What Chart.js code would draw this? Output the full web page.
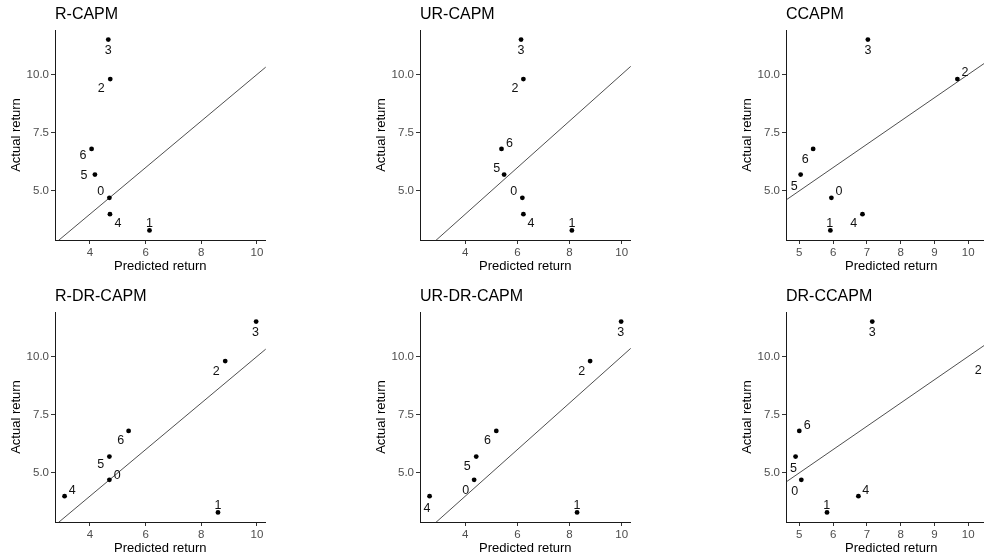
<!DOCTYPE html>
<html>
<head>
<meta charset="utf-8">
<script src="https://cdn.jsdelivr.net/npm/chart.js@4.4.0/dist/chart.umd.min.js"></script>
<style>
    html, body { margin: 0; padding: 0; background: #fff; }
    body { width: 984px; height: 560px; position: relative; overflow: hidden; }
    canvas { position: absolute; }
</style>
</head>
<body>
<canvas id="p0" width="280" height="280" style="left:0px;top:0px"></canvas>
<canvas id="p1" width="280" height="280" style="left:365px;top:0px"></canvas>
<canvas id="p2" width="280" height="280" style="left:731px;top:0px"></canvas>
<canvas id="p3" width="280" height="280" style="left:0px;top:282px"></canvas>
<canvas id="p4" width="280" height="280" style="left:365px;top:282px"></canvas>
<canvas id="p5" width="280" height="280" style="left:731px;top:282px"></canvas>
<script>
const FONT = "'Liberation Sans', Arial, sans-serif";

// portfolio ids and their realised returns (same in every panel)
const portfolios = ["0", "1", "2", "3", "4", "5", "6"];
const actualReturn = [4.7, 3.3, 9.8, 11.5, 4.0, 5.7, 6.8];

// predicted returns per model, in portfolio order 0..6
const predRCapm = [4.70, 6.14, 4.73, 4.66, 4.72, 4.18, 4.06];
const predURCapm = [6.19, 8.09, 6.23, 6.14, 6.23, 5.49, 5.39];
const predCCapm = [5.95, 5.92, 9.68, 7.03, 6.87, 5.04, 5.41];
const predRDRCapm = [4.70, 8.60, 8.86, 9.97, 3.09, 4.70, 5.39];
const predURDRCapm = [4.34, 8.29, 8.79, 9.98, 2.63, 4.42, 5.19];
const predDRCCapm = [5.06, 5.82, 10.56, 7.16, 6.75, 4.89, 5.00];

const modelNames = ["R-CAPM", "UR-CAPM", "CCAPM", "R-DR-CAPM", "UR-DR-CAPM", "DR-CCAPM"];

const yTicks = [5, 7.5, 10];
const xTicksWide = [4, 6, 8, 10];
const xTicksNarrow = [5, 6, 7, 8, 9, 10];

// where each number sits relative to its dot (repelled labels), px
const labelOffsets = [
    [[-8.7, -6.7], [0, -7.7], [-9, 9.3], [0, 10.7], [8, 9.3], [-11, 0], [-8.7, 5.7]],
    [[-8.7, -6.7], [0, -7.7], [-8.3, 9.3], [0, 10.7], [7.7, 9.3], [-7.3, -6.3], [8, -5.7]],
    [[7.7, -6.7], [-0.7, -7.7], [7.7, -6.7], [0, 10.7], [-8.7, 9.3], [-6.3, 11.3], [-8, 10]],
    [[7.7, -5], [0, -7.7], [-9, 9.7], [-0.7, 10.3], [7.7, -5.7], [-8.7, 7], [-8, 9.3]],
    [[-8.3, 9.7], [0, -7.7], [-8.3, 9.7], [-0.3, 10.3], [-2.7, 11.7], [-9, 9.3], [-8.7, 9.3]],
    [[-6.7, 11.3], [-0.3, -7.7], [-9, 9.3], [0, 10.3], [7.3, -5.7], [-2, 11], [8, -5.7]]
];

const predictions = [predRCapm, predURCapm, predCCapm, predRDRCapm, predURDRCapm, predDRCCapm];
const columnTicks = [xTicksWide, xTicksWide, xTicksNarrow];

function expandRange(values) {
    const lo = Math.min(...values);
    const hi = Math.max(...values);
    const pad = (hi - lo) * 0.05;
    return [lo - pad, hi + pad];
}

const yRange = expandRange(actualReturn);

const panelDecor = {
    id: "panelDecor",
    afterDatasetsDraw(chart, args, opts) {
        const ctx = chart.ctx;
        const meta = chart.getDatasetMeta(0);
        ctx.save();
        ctx.fillStyle = "#111";
        ctx.font = "12.5px " + FONT;
        ctx.textAlign = "center";
        ctx.textBaseline = "middle";
        meta.data.forEach((pt, i) => {
            const [dx, dy] = opts.offsets[i];
            ctx.fillText(portfolios[i], pt.x + dx, pt.y + dy + 0.5);
        });
        ctx.fillStyle = "#000";
        ctx.font = "16px " + FONT;
        ctx.textAlign = "left";
        ctx.fillText(opts.title, chart.chartArea.left, chart.chartArea.top - 15);
        ctx.restore();
    }
};

function drawPanel(index) {
    const col = index % 3;
    const pred = predictions[index];
    const other = predictions[(index + 3) % 6];
    const xRange = expandRange(pred.concat(other));
    const lo = Math.min(xRange[0], yRange[0]);
    const hi = Math.max(xRange[1], yRange[1]);
    const xTicks = columnTicks[col];

    new Chart(document.getElementById("p" + index), {
        type: "scatter",
        data: {
            datasets: [{
                data: pred.map((x, i) => ({x: x, y: actualReturn[i]})),
                backgroundColor: "#000",
                borderWidth: 0,
                pointRadius: 2.4,
                order: 0
            }, {
                type: "line",
                data: [{x: lo, y: lo}, {x: hi, y: hi}],
                borderColor: "#222",
                borderWidth: 0.8,
                pointRadius: 0,
                clip: 0,
                order: 1
            }]
        },
        options: {
            responsive: false,
            animation: false,
            devicePixelRatio: 1,
            layout: {padding: {top: 30, right: 14.3, left: 0, bottom: 0}},
            plugins: {
                legend: {display: false},
                tooltip: {enabled: false},
                panelDecor: {title: modelNames[index], offsets: labelOffsets[index]}
            },
            scales: {
                x: {
                    type: "linear",
                    min: xRange[0],
                    max: xRange[1],
                    afterBuildTicks: s => { s.ticks = xTicks.map(v => ({value: v})); },
                    afterFit: s => { s.height = 40; },
                    grid: {display: true, drawOnChartArea: false, drawTicks: true, tickLength: 4, color: "#333"},
                    border: {display: true, color: "#1a1a1a", width: 1},
                    ticks: {
                        color: "#4d4d4d", font: {family: FONT, size: 11.5}, padding: 2,
                        maxRotation: 0, autoSkip: false, callback: v => String(v)
                    },
                    title: {
                        display: true, text: "Predicted return", color: "#000",
                        font: {family: FONT, size: 13}, padding: {top: 0, bottom: 5.5}
                    }
                },
                y: {
                    type: "linear",
                    min: yRange[0],
                    max: yRange[1],
                    afterBuildTicks: s => { s.ticks = yTicks.map(v => ({value: v})); },
                    afterFit: s => { s.width = 55; },
                    grid: {display: true, drawOnChartArea: false, drawTicks: true, tickLength: 4, color: "#333"},
                    border: {display: true, color: "#1a1a1a", width: 1},
                    ticks: {
                        color: "#4d4d4d", font: {family: FONT, size: 11.5}, padding: 2,
                        autoSkip: false, callback: v => v.toFixed(1)
                    },
                    title: {
                        display: true, text: "Actual return", color: "#000",
                        font: {family: FONT, size: 13}, padding: {top: 9, bottom: 0}
                    }
                }
            }
        },
        plugins: [panelDecor]
    });
}

for (let i = 0; i < modelNames.length; i++) {
    drawPanel(i);
}
</script>
</body>
</html>
